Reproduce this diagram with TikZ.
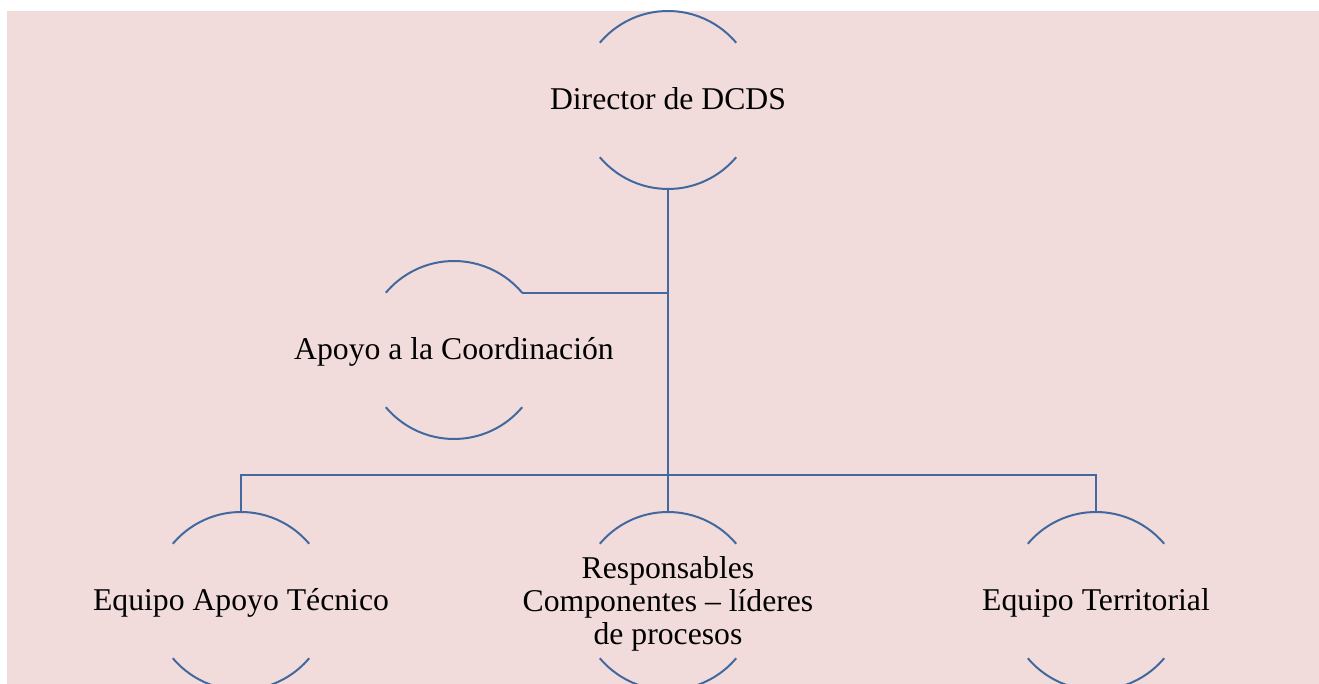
\documentclass[tikz,border=0pt]{standalone}
\usepackage{fontspec}
\setmainfont{Liberation Serif}
\definecolor{bgpink}{HTML}{F2DCDB}
\definecolor{lineblue}{RGB}{65,105,160}
\begin{document}
\begin{tikzpicture}[x=1pt,y=1pt,
  circ/.style={circle,minimum size=178pt,inner sep=0pt,outer sep=0pt},
  ln/.style={draw=lineblue,line width=2pt},
  txt/.style={inner sep=0pt,font=\fontsize{31.7}{33}\selectfont,text=black,align=center}]
\useasboundingbox (0,0) rectangle (1319,684);
\fill[bgpink] (7,0) rectangle (1319,673);
% circles
\node[circ] (dir) at (668,584) {};
\node[circ] (apo) at (454,334) {};
\node[circ] (tec) at (241,83) {};
\node[circ] (res) at (668,83) {};
\node[circ] (ter) at (1096,83) {};
\foreach \n in {dir,apo,tec,res,ter}{
  \draw[ln] (\n.40) arc[start angle=40,end angle=140,radius=89pt];
  \draw[ln] (\n.220) arc[start angle=220,end angle=320,radius=89pt];
}
% texts
\node[txt,anchor=base] (tdir) at (668,574) {Director de DCDS};
\node[txt,anchor=base] (tapo) at (454,324) {Apoyo a la Coordinación};
\node[txt,anchor=base] (ttec) at (241,73) {Equipo Apoyo Técnico};
\node[txt,anchor=base] (tter) at (1096,73) {Equipo Territorial};
\node[txt,anchor=center,yshift=-3pt] (tres) at (res) {Responsables\\Componentes – líderes\\de procesos};
% connectors
\coordinate (bus) at (668,209);
\draw[ln] (dir.south) -- (bus);
\draw[ln] (apo.40) -- (apo.40 -| dir.south);
\draw[ln] (tec.north) |- (bus) -| (ter.north);
\draw[ln] (bus) -- (res.north);
\end{tikzpicture}
\end{document}
